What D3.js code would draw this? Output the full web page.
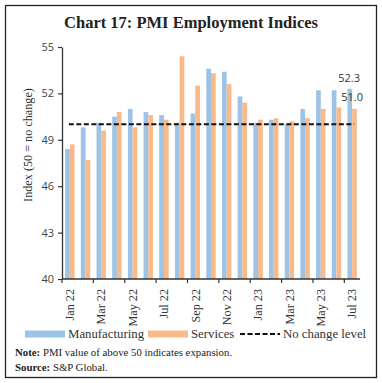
<!DOCTYPE html>
<html>
<head>
<meta charset="utf-8">
<script src="https://cdn.jsdelivr.net/npm/d3@7"></script>
<style>
  html, body { margin: 0; padding: 0; background: #fff; }
  svg { display: block; }
</style>
</head>
<body>
<svg id="chart" width="382" height="383"></svg>
<script>
const months = ["Jan 22","Feb 22","Mar 22","Apr 22","May 22","Jun 22","Jul 22","Aug 22","Sep 22","Oct 22","Nov 22","Dec 22","Jan 23","Feb 23","Mar 23","Apr 23","May 23","Jun 23","Jul 23"];
const manufacturing = [48.4, 49.8, 50.1, 50.5, 51.0, 50.8, 50.6, 50.1, 50.7, 53.6, 53.4, 51.8, 50.1, 50.3, 50.0, 51.0, 52.2, 52.2, 52.3];
const services = [48.7, 47.7, 49.6, 50.8, 49.8, 50.6, 50.3, 54.4, 52.5, 53.3, 52.6, 51.4, 50.3, 50.4, 50.2, 50.4, 51.0, 51.1, 51.0];
const yTicks = [40, 43, 46, 49, 52, 55];
const noChangeLevel = 50;
const seriesNames = ["Manufacturing", "Services"];
const colors = ["#9DC3E6", "#F8B98B"];

const svg = d3.select("#chart");
const serif = "'Liberation Serif', 'DejaVu Serif', serif";
const sans = "'Open Sans', 'Liberation Sans', sans-serif";

// border
svg.append("rect").attr("x", 5.5).attr("y", 5.5).attr("width", 371).attr("height", 372)
  .attr("fill", "none").attr("stroke", "#222").attr("stroke-width", 1.3);

// title
svg.append("text").attr("x", 191).attr("y", 28).attr("text-anchor", "middle")
  .attr("font-family", serif).attr("font-weight", "bold").attr("font-size", 16.5)
  .attr("fill", "#222").text("Chart 17: PMI Employment Indices");

const pLeft = 62, pRight = 360, pTop = 47, pBottom = 279;
const x = d3.scaleBand().domain(months).range([pLeft, pRight]).paddingInner(0.4).paddingOuter(0.2);
const step = x.step();
const x1 = d3.scaleBand().domain(seriesNames).range([0, x.bandwidth()]);
const y = d3.scaleLinear().domain([40, 55]).range([pBottom, pTop]);

// bars
const data = months.map((m, i) => ({ m, vals: [manufacturing[i], services[i]] }));
const g = svg.append("g");
data.forEach(d => {
  d.vals.forEach((v, k) => {
    g.append("rect")
      .attr("x", x(d.m) + x1(seriesNames[k]))
      .attr("y", y(v))
      .attr("width", x1.bandwidth())
      .attr("height", y(40) - y(v))
      .attr("fill", colors[k]);
  });
});

// no change line
svg.append("line")
  .attr("x1", x(months[0]) + x.bandwidth() / 2 - 1)
  .attr("x2", x(months[months.length - 1]) + x.bandwidth() / 2 + 2)
  .attr("y1", y(noChangeLevel)).attr("y2", y(noChangeLevel))
  .attr("stroke", "#111").attr("stroke-width", 2).attr("stroke-dasharray", "5,2.5");

// y axis
const yAxis = d3.axisLeft(y).tickValues(yTicks).tickSize(4).tickPadding(4).tickSizeOuter(0);
const ya = svg.append("g").attr("transform", `translate(${pLeft},0)`).call(yAxis);
ya.select(".domain").attr("stroke", "#333").attr("stroke-width", 1.3);
ya.selectAll(".tick line").attr("stroke", "#333").attr("stroke-width", 1.2);
ya.selectAll(".tick text").attr("font-family", sans).attr("font-size", 11).attr("fill", "#444");

// x axis
const xa = svg.append("g").attr("transform", `translate(0,${pBottom})`);
xa.append("line").attr("x1", pLeft).attr("x2", pRight).attr("y1", 0).attr("y2", 0)
  .attr("stroke", "#333").attr("stroke-width", 1.3);
for (let i = 0; i < months.length; i += 2) {
  const bx = pLeft + i * step;
  xa.append("line").attr("x1", bx).attr("x2", bx).attr("y1", 0).attr("y2", 4)
    .attr("stroke", "#333").attr("stroke-width", 1.2);
}
months.forEach((m, i) => {
  if (i % 2 !== 0) return;
  const cx = x(m) + x.bandwidth() / 2;
  xa.append("text")
    .attr("transform", `translate(${cx},10) rotate(-90)`)
    .attr("text-anchor", "end").attr("dy", "0.35em")
    .attr("font-family", serif).attr("font-size", 12.2).attr("fill", "#333")
    .text(m);
});

// y title
svg.append("text").attr("transform", "translate(28,145) rotate(-90)")
  .attr("text-anchor", "middle").attr("dy", "0.35em")
  .attr("font-family", serif).attr("font-size", 12.2).attr("fill", "#333")
  .text("Index (50 = no change)");

// annotations for last values
const last = months.length - 1;
const lastX = x(months[last]) + x.bandwidth() / 2;
svg.append("text").attr("x", lastX - 3).attr("y", y(manufacturing[last]) - 7)
  .attr("text-anchor", "middle").attr("font-family", sans).attr("font-size", 11).attr("fill", "#333")
  .text(manufacturing[last].toFixed(1));
svg.append("text").attr("x", lastX).attr("y", y(services[last]) - 8)
  .attr("text-anchor", "middle").attr("font-family", sans).attr("font-size", 11).attr("fill", "#333")
  .text(services[last].toFixed(1));

// legend
const ly = 334;
const leg = svg.append("g").attr("font-family", serif).attr("font-size", 12.8).attr("fill", "#333");
leg.append("rect").attr("x", 25).attr("y", ly - 3.5).attr("width", 40).attr("height", 7).attr("fill", colors[0]);
leg.append("text").attr("x", 68).attr("y", ly).attr("dy", "0.35em").text(seriesNames[0]);
leg.append("rect").attr("x", 148).attr("y", ly - 3.5).attr("width", 40).attr("height", 7).attr("fill", colors[1]);
leg.append("text").attr("x", 191).attr("y", ly).attr("dy", "0.35em").text(seriesNames[1]);
leg.append("line").attr("x1", 240).attr("x2", 280).attr("y1", ly).attr("y2", ly)
  .attr("stroke", "#111").attr("stroke-width", 2).attr("stroke-dasharray", "5,2.5");
leg.append("text").attr("x", 283).attr("y", ly).attr("dy", "0.35em").text("No change level");

// notes
const note = svg.append("g").attr("font-family", serif).attr("font-size", 10.8).attr("fill", "#222");
const n1 = note.append("text").attr("x", 15).attr("y", 356);
n1.append("tspan").attr("font-weight", "bold").text("Note:");
n1.append("tspan").text(" PMI value of above 50 indicates expansion.");
const n2 = note.append("text").attr("x", 15).attr("y", 371);
n2.append("tspan").attr("font-weight", "bold").text("Source:");
n2.append("tspan").text(" S&P Global.");
</script>
</body>
</html>
